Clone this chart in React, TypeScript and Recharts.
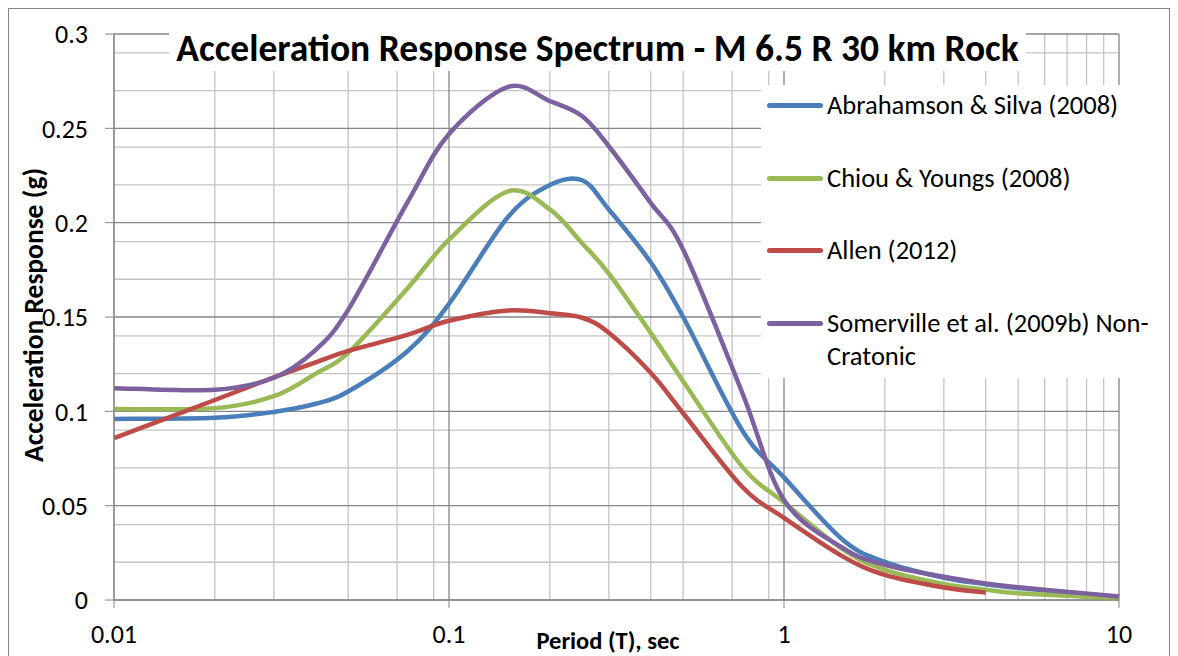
import React from 'react';
import { LineChart, Line, XAxis, YAxis, CartesianGrid } from 'recharts';

// periods (sec) shared by most models
const periods = [0.01, 0.02, 0.03, 0.04, 0.05, 0.075, 0.1, 0.15, 0.2, 0.25, 0.3, 0.4, 0.5, 0.75, 1, 1.5, 2, 3, 4, 5, 7.5, 10];
const allenPeriods = [0.01, 0.02, 0.03, 0.04, 0.05, 0.075, 0.1, 0.15, 0.2, 0.25, 0.3, 0.4, 0.5, 0.75, 1, 1.5, 2, 3, 4];

const abrahamsonSilva = [0.096, 0.0966, 0.0997, 0.104, 0.1105, 0.1317, 0.157, 0.203, 0.220, 0.2225, 0.207, 0.179, 0.150, 0.090, 0.065, 0.0318, 0.0202, 0.0118, 0.0084, 0.0063, 0.0036, 0.0016];
const chiouYoungs = [0.1012, 0.1017, 0.108, 0.120, 0.131, 0.165, 0.191, 0.2166, 0.207, 0.189, 0.173, 0.1416, 0.116, 0.0707, 0.0517, 0.0268, 0.016, 0.0085, 0.0055, 0.0036, 0.002, 0.0005];
const allen = [0.0858, 0.106, 0.118, 0.126, 0.132, 0.1405, 0.148, 0.1535, 0.152, 0.1496, 0.1416, 0.1204, 0.099, 0.060, 0.0435, 0.023, 0.0133, 0.0066, 0.004];
const somerville = [0.1123, 0.1114, 0.1178, 0.1326, 0.1538, 0.2105, 0.247, 0.272, 0.2644, 0.2564, 0.2405, 0.2105, 0.1857, 0.110, 0.053, 0.0275, 0.0186, 0.0123, 0.0088, 0.0067, 0.0039, 0.0018];

const seriesNames = ['Abrahamson & Silva (2008)', 'Chiou & Youngs (2008)', 'Allen (2012)', 'Somerville et al. (2009b) Non-Cratonic'];
const seriesColors = ['#4A7EBB', '#98B954', '#BE4B48', '#7D60A0'];

const xTicks = [0.01, 0.1, 1, 10];
const yTicks = [0, 0.05, 0.1, 0.15, 0.2, 0.25, 0.3];
const xMinor = [0.02, 0.03, 0.04, 0.05, 0.06, 0.07, 0.08, 0.09, 0.2, 0.3, 0.4, 0.5, 0.6, 0.7, 0.8, 0.9, 2, 3, 4, 5, 6, 7, 8, 9];
const yMinor = [0.01, 0.02, 0.03, 0.04, 0.06, 0.07, 0.08, 0.09, 0.11, 0.12, 0.13, 0.14, 0.16, 0.17, 0.18, 0.19, 0.21, 0.22, 0.23, 0.24, 0.26, 0.27, 0.28, 0.29];

const toData = (xs: number[], ys: number[]) => xs.map((T, i) => ({ T, v: ys[i] }));

const series = [
  toData(periods, abrahamsonSilva),
  toData(periods, chiouYoungs),
  toData(allenPeriods, allen),
  toData(periods, somerville),
];

// Excel-style smoothed line (Catmull-Rom through the points)
const smoothCurve = (context: any) => {
  let pts: number[][] = [];
  return {
    areaStart() {},
    areaEnd() {},
    lineStart() {
      pts = [];
    },
    point(x: number, y: number) {
      pts.push([+x, +y]);
    },
    lineEnd() {
      const n = pts.length;
      if (!n) return;
      context.moveTo(pts[0][0], pts[0][1]);
      for (let i = 0; i < n - 1; i++) {
        const p0 = pts[Math.max(0, i - 1)];
        const p1 = pts[i];
        const p2 = pts[i + 1];
        const p3 = pts[Math.min(n - 1, i + 2)];
        context.bezierCurveTo(
          p1[0] + (p2[0] - p0[0]) / 6,
          p1[1] + (p2[1] - p0[1]) / 6,
          p2[0] - (p3[0] - p1[0]) / 6,
          p2[1] - (p3[1] - p1[1]) / 6,
          p2[0],
          p2[1]
        );
      }
    },
  };
};

const FONT = 'Carlito, Lato, "Liberation Sans", sans-serif';

export default function App() {
  return (
    <div style={{ position: 'fixed', left: 0, top: 0, width: 1178, height: 656, overflow: 'hidden', background: '#fff', fontFamily: FONT }}>
      <div style={{ position: 'absolute', left: 8, top: 8, width: 1162, height: 700, border: '1px solid #868686', boxSizing: 'border-box' }} />
      <div style={{ position: 'absolute', left: 0, top: 0 }}>
        <LineChart width={1178} height={656} margin={{ top: 34, right: 59, bottom: 6, left: 54 }}>
          <CartesianGrid stroke="#c4c4c4" strokeWidth={1.3} verticalValues={xMinor} horizontalValues={yMinor} />
          <CartesianGrid stroke="#868686" strokeWidth={1.3} verticalValues={xTicks} horizontalValues={yTicks} />
          <XAxis
            dataKey="T"
            type="number"
            scale="log"
            domain={[0.01, 10]}
            ticks={xTicks}
            tickFormatter={(t: number) => String(t)}
            allowDuplicatedCategory={false}
            height={50}
            tickSize={8}
            tickMargin={17}
            stroke="#868686"
            tick={{ fill: '#000', fontSize: 26, fontFamily: FONT }}
          />
          <YAxis
            type="number"
            domain={[0, 0.3]}
            ticks={yTicks}
            width={60}
            tickSize={9}
            tickMargin={17}
            stroke="#868686"
            tick={{ fill: '#000', fontSize: 26, fontFamily: FONT }}
          />
          {series.map((d, i) => (
            <Line
              key={seriesNames[i]}
              data={d}
              dataKey="v"
              type={smoothCurve as any}
              stroke={seriesColors[i]}
              strokeWidth={4.5}
              dot={false}
              isAnimationActive={false}
            />
          ))}
        </LineChart>
      </div>

      {/* title box */}
      <div style={{ position: 'absolute', left: 169, top: 26, width: 857, height: 45, background: '#fff', textAlign: 'center', lineHeight: '45px', fontSize: 37.5, fontWeight: 700, color: '#000', whiteSpace: 'nowrap' }}>
        Acceleration Response Spectrum - M 6.5 R 30 km Rock
      </div>

      {/* legend */}
      <div style={{ position: 'absolute', left: 761, top: 85, width: 400, height: 293, background: '#fff' }}>
        {seriesNames.map((name, i) => (
          <div key={name} style={{ position: 'absolute', left: 6, top: 4 + 72.5 * i, display: 'flex', alignItems: 'flex-start' }}>
            <div style={{ width: 56, height: 5, borderRadius: 3, background: seriesColors[i], marginTop: 14 }} />
            <div style={{ marginLeft: 4, width: 345, fontSize: 26.5, lineHeight: '33px', color: '#000' }}>{name}</div>
          </div>
        ))}
      </div>

      {/* axis titles */}
      <div style={{ position: 'absolute', left: 33, top: 315, transform: 'translate(-50%, -50%) rotate(-90deg)', whiteSpace: 'nowrap', fontSize: 27.5, fontWeight: 700, color: '#000' }}>
        Acceleration Response (g)
      </div>
      <div style={{ position: 'absolute', left: 608, top: 641, transform: 'translate(-50%, -50%)', whiteSpace: 'nowrap', fontSize: 24.5, fontWeight: 700, color: '#000' }}>
        Period (T), sec
      </div>
    </div>
  );
}
